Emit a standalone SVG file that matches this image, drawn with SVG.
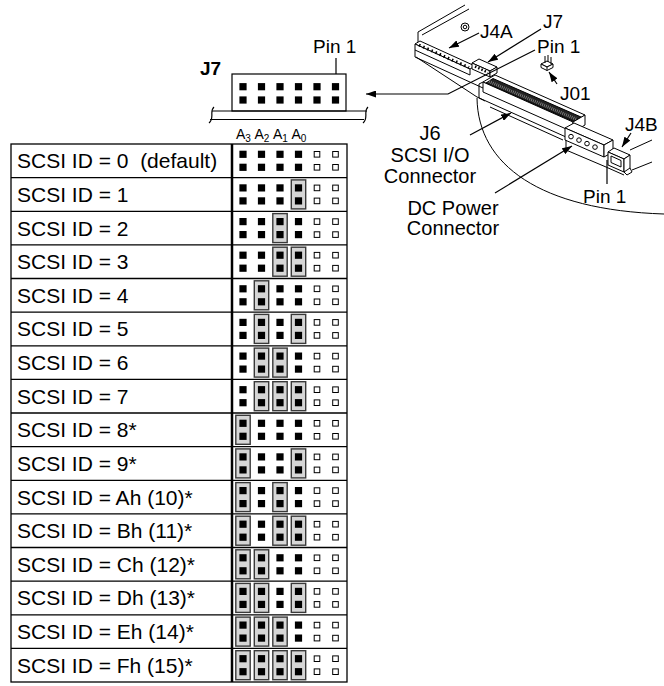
<svg xmlns="http://www.w3.org/2000/svg" width="664" height="686" viewBox="0 0 664 686">
<style>
text{font-family:"Liberation Sans",Arial,sans-serif;fill:#000}
.t{font-size:21px;white-space:pre}
.lb{font-size:19px}
.cl{font-size:20px;text-anchor:middle}
.bd{font-size:19px;font-weight:bold}
.a{font-size:14px}
.s{font-size:10px}
.ln{fill:none;stroke:#000;stroke-width:1.2}
.dl{fill:none;stroke:#000;stroke-width:1}
.fw{fill:#fff;stroke:#000;stroke-width:1}
</style>
<defs>
<marker id="ah" viewBox="0 0 10 7" refX="10" refY="3.5" markerWidth="10" markerHeight="7" markerUnits="userSpaceOnUse" orient="auto"><path d="M0,0 L10,3.5 L0,7 z" fill="#000"/></marker>
<rect id="pin" x="-3.6" y="-3.6" width="7.2" height="7.2" fill="#000"/>
<rect id="hol" x="-2.8" y="-2.8" width="5.6" height="5.6" fill="#fff" stroke="#000" stroke-width="1"/>
<g id="pr"><use href="#pin" y="-6.5"/><use href="#pin" y="6.5"/></g>
<g id="jp"><rect x="-7.2" y="-14.5" width="14.4" height="29" fill="#d6d6d6" stroke="#3a3a3a" stroke-width="1.4"/><use href="#pr"/></g>
<g id="hp"><use href="#hol" y="-6.5"/><use href="#hol" y="6.5"/></g>
</defs>
<rect width="664" height="686" fill="#fff"/>

<!-- J7 header detail -->
<g id="j7detail">
<text class="bd" x="200" y="75">J7</text>
<text class="lb" x="313" y="53">Pin 1</text>
<path class="ln" d="M336,58 L336,81"/>
<rect x="232" y="74" width="114" height="37" fill="#fff" stroke="#000" stroke-width="1.2"/>
<g>
<use href="#pin" x="243" y="86.7"/><use href="#pin" x="261.5" y="86.7"/><use href="#pin" x="280" y="86.7"/><use href="#pin" x="298.5" y="86.7"/><use href="#pin" x="317" y="86.7"/><use href="#pin" x="335.5" y="86.7"/>
<use href="#pin" x="243" y="100"/><use href="#pin" x="261.5" y="100"/><use href="#pin" x="280" y="100"/><use href="#pin" x="298.5" y="100"/><use href="#pin" x="317" y="100"/><use href="#pin" x="335.5" y="100"/>
</g>
<path class="ln" d="M212,111 L367,111 M210,119.5 L364,119.5"/>
<path class="ln" d="M214,107 C209,111 215,118 209,123 M368,107 C363,111 369,118 363,123"/>
<text class="a" x="236" y="139">A<tspan class="s" dy="3">3</tspan></text>
<text class="a" x="254.5" y="139">A<tspan class="s" dy="3">2</tspan></text>
<text class="a" x="273" y="139">A<tspan class="s" dy="3">1</tspan></text>
<text class="a" x="291.5" y="139">A<tspan class="s" dy="3">0</tspan></text>
</g>

<!-- Table -->
<g id="table">
<rect x="11" y="144" width="336" height="538" fill="none" stroke="#000" stroke-width="1.3"/>
<path stroke="#000" stroke-width="1.3" fill="none" d="M11,177.6H347 M11,211.3H347 M11,244.9H347 M11,278.5H347 M11,312.1H347 M11,345.8H347 M11,379.4H347 M11,413H347 M11,446.6H347 M11,480.3H347 M11,513.9H347 M11,547.5H347 M11,581.1H347 M11,614.8H347 M11,648.4H347"/>
<path stroke="#000" stroke-width="2.5" d="M232,144V682"/>
</g>

<g id="id0" transform="translate(0,160.8)"><text class="t" x="17" y="7.5">SCSI ID = 0  (default)</text><use href="#pr" x="243"/><use href="#pr" x="261.5"/><use href="#pr" x="280"/><use href="#pr" x="298.5"/><use href="#hp" x="317"/><use href="#hp" x="335.5"/></g>
<g id="id1" transform="translate(0,194.4)"><text class="t" x="17" y="7.5">SCSI ID = 1</text><use href="#pr" x="243"/><use href="#pr" x="261.5"/><use href="#pr" x="280"/><use href="#jp" x="298.5"/><use href="#hp" x="317"/><use href="#hp" x="335.5"/></g>
<g id="id2" transform="translate(0,228.1)"><text class="t" x="17" y="7.5">SCSI ID = 2</text><use href="#pr" x="243"/><use href="#pr" x="261.5"/><use href="#jp" x="280"/><use href="#pr" x="298.5"/><use href="#hp" x="317"/><use href="#hp" x="335.5"/></g>
<g id="id3" transform="translate(0,261.7)"><text class="t" x="17" y="7.5">SCSI ID = 3</text><use href="#pr" x="243"/><use href="#pr" x="261.5"/><use href="#jp" x="280"/><use href="#jp" x="298.5"/><use href="#hp" x="317"/><use href="#hp" x="335.5"/></g>
<g id="id4" transform="translate(0,295.3)"><text class="t" x="17" y="7.5">SCSI ID = 4</text><use href="#pr" x="243"/><use href="#jp" x="261.5"/><use href="#pr" x="280"/><use href="#pr" x="298.5"/><use href="#hp" x="317"/><use href="#hp" x="335.5"/></g>
<g id="id5" transform="translate(0,328.9)"><text class="t" x="17" y="7.5">SCSI ID = 5</text><use href="#pr" x="243"/><use href="#jp" x="261.5"/><use href="#pr" x="280"/><use href="#jp" x="298.5"/><use href="#hp" x="317"/><use href="#hp" x="335.5"/></g>
<g id="id6" transform="translate(0,362.6)"><text class="t" x="17" y="7.5">SCSI ID = 6</text><use href="#pr" x="243"/><use href="#jp" x="261.5"/><use href="#jp" x="280"/><use href="#pr" x="298.5"/><use href="#hp" x="317"/><use href="#hp" x="335.5"/></g>
<g id="id7" transform="translate(0,396.2)"><text class="t" x="17" y="7.5">SCSI ID = 7</text><use href="#pr" x="243"/><use href="#jp" x="261.5"/><use href="#jp" x="280"/><use href="#jp" x="298.5"/><use href="#hp" x="317"/><use href="#hp" x="335.5"/></g>
<g id="id8" transform="translate(0,429.8)"><text class="t" x="17" y="7.5">SCSI ID = 8*</text><use href="#jp" x="243"/><use href="#pr" x="261.5"/><use href="#pr" x="280"/><use href="#pr" x="298.5"/><use href="#hp" x="317"/><use href="#hp" x="335.5"/></g>
<g id="id9" transform="translate(0,463.4)"><text class="t" x="17" y="7.5">SCSI ID = 9*</text><use href="#jp" x="243"/><use href="#pr" x="261.5"/><use href="#pr" x="280"/><use href="#jp" x="298.5"/><use href="#hp" x="317"/><use href="#hp" x="335.5"/></g>
<g id="id10" transform="translate(0,497.1)"><text class="t" x="17" y="7.5">SCSI ID = Ah (10)*</text><use href="#jp" x="243"/><use href="#pr" x="261.5"/><use href="#jp" x="280"/><use href="#pr" x="298.5"/><use href="#hp" x="317"/><use href="#hp" x="335.5"/></g>
<g id="id11" transform="translate(0,530.7)"><text class="t" x="17" y="7.5">SCSI ID = Bh (11)*</text><use href="#jp" x="243"/><use href="#pr" x="261.5"/><use href="#jp" x="280"/><use href="#jp" x="298.5"/><use href="#hp" x="317"/><use href="#hp" x="335.5"/></g>
<g id="id12" transform="translate(0,564.3)"><text class="t" x="17" y="7.5">SCSI ID = Ch (12)*</text><use href="#jp" x="243"/><use href="#jp" x="261.5"/><use href="#pr" x="280"/><use href="#pr" x="298.5"/><use href="#hp" x="317"/><use href="#hp" x="335.5"/></g>
<g id="id13" transform="translate(0,597.9)"><text class="t" x="17" y="7.5">SCSI ID = Dh (13)*</text><use href="#jp" x="243"/><use href="#jp" x="261.5"/><use href="#pr" x="280"/><use href="#jp" x="298.5"/><use href="#hp" x="317"/><use href="#hp" x="335.5"/></g>
<g id="id14" transform="translate(0,631.6)"><text class="t" x="17" y="7.5">SCSI ID = Eh (14)*</text><use href="#jp" x="243"/><use href="#jp" x="261.5"/><use href="#jp" x="280"/><use href="#pr" x="298.5"/><use href="#hp" x="317"/><use href="#hp" x="335.5"/></g>
<g id="id15" transform="translate(0,665.2)"><text class="t" x="17" y="7.5">SCSI ID = Fh (15)*</text><use href="#jp" x="243"/><use href="#jp" x="261.5"/><use href="#jp" x="280"/><use href="#jp" x="298.5"/><use href="#hp" x="317"/><use href="#hp" x="335.5"/></g>

<!-- Drive drawing -->
<g id="drive" class="dl">
<path d="M418,47 L418,32 L465,5"/>
<path d="M422,35 L469,9"/>
<circle cx="465" cy="27" r="4"/>
<circle cx="465" cy="27" r="1.8"/>
<path d="M477,98 C478,165 540,210 664,214"/>
<!-- J4A -->
<path class="fw" d="M415,44 L420,41 L475,66 L470,69 Z"/>
<path class="fw" d="M415,44 L415,50 L470,75 L470,69 Z"/>
<path d="M419,45 L469,67.5" stroke-width="3" stroke-dasharray="1.5 3"/>
<path d="M415,50 L415,57 L483,88"/>
<path d="M416,57 L477,97"/>
<!-- J7 on drive -->
<path class="fw" d="M472,63 L479,59 L497,67 L490,71 Z"/>
<path class="fw" d="M472,63 L472,69 L490,77 L490,71 Z"/>
<path class="fw" d="M490,77 L497,73 L497,67 L490,71 Z"/>
<path d="M475,66.5 L488,72.5" stroke-width="2.5" stroke-dasharray="1.5 2"/>
<!-- J01 -->
<path class="fw" d="M541,64 L547,61 L553,64 L547,67 Z"/>
<path class="fw" d="M541,64 L541,67.5 L547,70.5 L553,67.5 L553,64 L547,67 Z"/>
<path d="M547,67 L547,70.5 M545,56 L545,63 M548,55 L548,62 M551,57 L551,64"/>
<!-- J6 -->
<path class="fw" d="M483,82 L495,75 L585,115 L573,122 Z"/>
<path d="M486,83 L493,78.5 L581,117 L574,121.5 Z" fill="#222"/>
<path d="M489,81.5 L577,119.5" stroke="#888" stroke-width="3" stroke-dasharray="0.8 1.2"/>
<path class="fw" d="M483,82 L483,92 L573,132 L573,122 Z"/>
<path class="fw" d="M573,132 L585,125 L585,115 L573,122 Z"/>
<path d="M479,84 L479,98 L485,101 M479,84 L483,82"/>
<path d="M477,97 L566,137 M490,107 L563,140"/>
<!-- Power connector -->
<path class="fw" d="M565,128 L574,123 L613,140 L604,145 Z"/>
<path class="fw" d="M565,128 L565,140 L604,157 L604,145 Z"/>
<path class="fw" d="M604,157 L613,152 L613,140 L604,145 Z"/>
<circle cx="571" cy="136.6" r="2.3"/>
<circle cx="579" cy="140.1" r="2.3"/>
<circle cx="587" cy="143.6" r="2.3"/>
<circle cx="595" cy="147.1" r="2.3"/>
<path d="M566,140 L566,150 L606,167 L624,175"/>
<!-- J4B -->
<path class="fw" d="M608,152 L614,148 L630,155 L624,159 Z"/>
<path class="fw" d="M608,152 L608,165 L624,172 L624,159 Z"/>
<path class="fw" d="M624,172 L630,168 L630,155 L624,159 Z"/>
<path d="M611,156 L621,160.5 L621,167 L611,162.5 Z"/>
<path d="M624,172 L627,175 L632,172 L630,168"/>
<path d="M630,150 L652,140 M632,170 L652,162"/>
</g>

<!-- Connectors / leaders -->
<g id="connectors" class="ln">
<path d="M535,50 L448,94 L366,94" marker-end="url(#ah)"/>
<path d="M479,33 L449,48" marker-end="url(#ah)"/>
<path d="M541,29 L488,62" marker-end="url(#ah)"/>
<path d="M557,84 L549,72" marker-end="url(#ah)"/>
<path d="M631,133 L622,147" marker-end="url(#ah)"/>
<path d="M470,135 L511,113" marker-end="url(#ah)"/>
<path d="M495,193 L572,146" marker-end="url(#ah)"/>
<path d="M607,160 L607,184"/>
</g>

<!-- Drive labels -->
<g id="labels">
<text class="lb" x="480" y="38">J4A</text>
<text class="lb" x="543" y="28">J7</text>
<text class="lb" x="537" y="53">Pin 1</text>
<text class="lb" x="560" y="100">J01</text>
<text class="lb" x="625" y="131">J4B</text>
<text class="lb" x="583" y="203">Pin 1</text>
<text class="cl" x="430" y="140">J6</text>
<text class="cl" x="430" y="162">SCSI I/O</text>
<text class="cl" x="430" y="183">Connector</text>
<text class="cl" x="453" y="215">DC Power</text>
<text class="cl" x="453" y="235">Connector</text>
</g>
</svg>
